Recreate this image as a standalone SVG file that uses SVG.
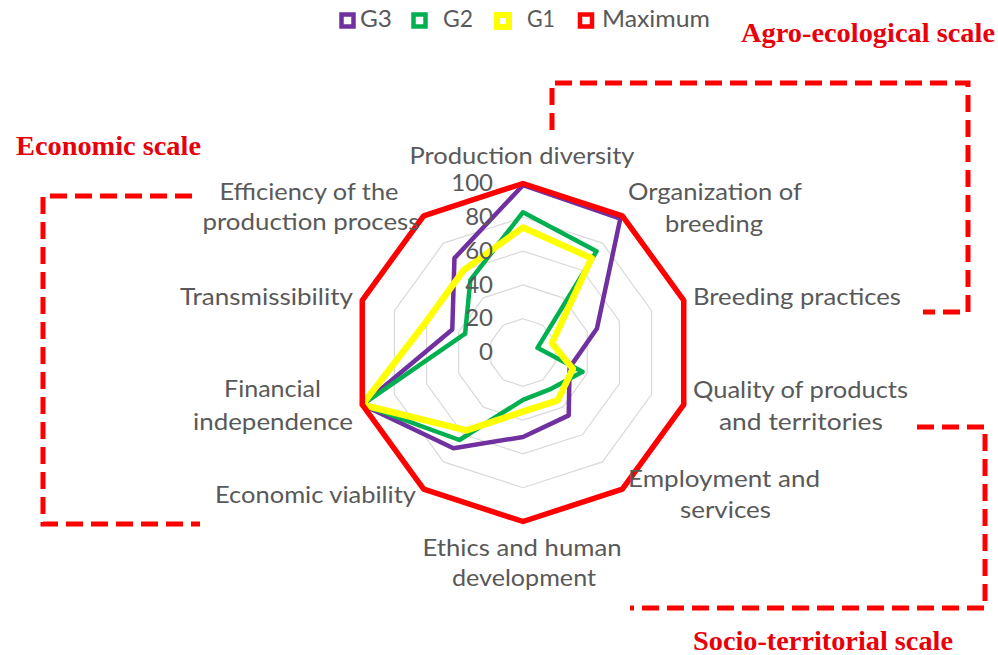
<svg xmlns="http://www.w3.org/2000/svg" width="998" height="655" viewBox="0 0 998 655">
<style>
.lbl{font-family:Lato,"Open Sans","Liberation Sans",sans-serif;font-size:24px;fill:#595959;text-anchor:middle}
.tick{font-family:Lato,"Open Sans","Liberation Sans",sans-serif;font-size:24px;fill:#595959;text-anchor:end}
.leg{font-family:Lato,"Open Sans","Liberation Sans",sans-serif;font-size:24px;fill:#595959}
.scale{font-family:"Liberation Serif","Times New Roman",serif;font-size:28px;font-weight:bold;fill:#E8000B}
.grid{fill:none;stroke:#d9d9d9;stroke-width:1.2}
.ser{fill:none;stroke-linejoin:round}
.bracket{fill:none;stroke:#FF0000;stroke-width:5;stroke-dasharray:17 8}
</style>
<rect width="998" height="655" fill="#ffffff"/>
<g id="legend">
<rect x="341.5" y="14.5" width="12" height="12" fill="#fff" stroke="#7030A0" stroke-width="4.5"/>
<text class="leg" x="360" y="27" textLength="32" lengthAdjust="spacingAndGlyphs">G3</text>
<rect x="413.5" y="14.5" width="12" height="12" fill="#fff" stroke="#00B050" stroke-width="4.5"/>
<text class="leg" x="443" y="27" textLength="30" lengthAdjust="spacingAndGlyphs">G2</text>
<rect x="497" y="15" width="12" height="12" fill="#fff" stroke="#FFFF00" stroke-width="6"/>
<text class="leg" x="527" y="27" textLength="28" lengthAdjust="spacingAndGlyphs">G1</text>
<rect x="580" y="14.5" width="12" height="12" fill="#fff" stroke="#FF0000" stroke-width="4.5"/>
<text class="leg" x="602" y="27" textLength="108" lengthAdjust="spacingAndGlyphs">Maximum</text>
</g>
<g id="grid" transform="translate(523,352.5)">
<polygon class="grid" points="0,-33.8 19.87,-27.34 32.15,-10.44 32.15,10.44 19.87,27.34 0,33.8 -19.87,27.34 -32.15,10.44 -32.15,-10.44 -19.87,-27.34"/>
<polygon class="grid" points="0,-67.6 39.74,-54.69 64.29,-20.89 64.29,20.89 39.74,54.69 0,67.6 -39.74,54.69 -64.29,20.89 -64.29,-20.89 -39.74,-54.69"/>
<polygon class="grid" points="0,-101.4 59.6,-82.03 96.44,-31.33 96.44,31.33 59.6,82.03 0,101.4 -59.6,82.03 -96.44,31.33 -96.44,-31.33 -59.6,-82.03"/>
<polygon class="grid" points="0,-135.2 79.47,-109.38 128.59,-41.78 128.59,41.78 79.47,109.38 0,135.2 -79.47,109.38 -128.59,41.78 -128.59,-41.78 -79.47,-109.38"/>
<polygon class="grid" points="0,-169 99.34,-136.72 160.74,-52.22 160.74,52.22 99.34,136.72 0,169 -99.34,136.72 -160.74,52.22 -160.74,-52.22 -99.34,-136.72"/>
</g>
<g id="series" transform="translate(523,352.5)">
<polygon id="G3" class="ser" stroke="#7030A0" stroke-width="4.5" points="0,-167.31 97.35,-133.99 73.94,-24.02 46.61,15.14 45.7,62.89 0,84.5 -69.54,95.7 -160.74,52.22 -70.72,-22.98 -68.54,-94.34"/>
<polygon id="G2" class="ser" stroke="#00B050" stroke-width="4.5" points="0,-140.27 73.51,-101.17 14.47,-4.7 59.47,19.32 26.82,36.91 0,47.32 -63.58,87.5 -160.74,52.22 -57.87,-18.8 -52.65,-72.46"/>
<polygon id="G1" class="ser" stroke="#FFFF00" stroke-width="6.5" points="0,-125.06 68.54,-94.34 28.93,-9.4 49.83,16.19 34.77,47.85 0,59.15 -56.62,77.93 -160.74,52.22 -96.44,-31.33 -59.6,-82.03"/>
<polygon id="Maximum" class="ser" stroke="#FF0000" stroke-width="5.5" points="0,-169 99.34,-136.72 160.74,-52.22 160.74,52.22 99.34,136.72 0,169 -99.34,136.72 -160.74,52.22 -160.74,-52.22 -99.34,-136.72"/>
</g>
<g id="ticks">
<text class="tick" x="493" y="191">100</text>
<text class="tick" x="493" y="225">80</text>
<text class="tick" x="493" y="259">60</text>
<text class="tick" x="493" y="293">40</text>
<text class="tick" x="493" y="326">20</text>
<text class="tick" x="493" y="360">0</text>
</g>
<g id="axis-labels">
<text class="lbl" x="522" y="164" textLength="225" lengthAdjust="spacingAndGlyphs">Production diversity</text>
<text class="lbl" x="715" y="200" textLength="174" lengthAdjust="spacingAndGlyphs">Organization of</text>
<text class="lbl" x="714" y="232" textLength="98" lengthAdjust="spacingAndGlyphs">breeding</text>
<text class="lbl" x="797" y="305" textLength="208" lengthAdjust="spacingAndGlyphs">Breeding practices</text>
<text class="lbl" x="800.5" y="398" textLength="215" lengthAdjust="spacingAndGlyphs">Quality of products</text>
<text class="lbl" x="801" y="430" textLength="164" lengthAdjust="spacingAndGlyphs">and territories</text>
<text class="lbl" x="724" y="487" textLength="192" lengthAdjust="spacingAndGlyphs">Employment and</text>
<text class="lbl" x="725.5" y="518" textLength="91" lengthAdjust="spacingAndGlyphs">services</text>
<text class="lbl" x="522" y="556" textLength="199" lengthAdjust="spacingAndGlyphs">Ethics and human</text>
<text class="lbl" x="524" y="586" textLength="144" lengthAdjust="spacingAndGlyphs">development</text>
<text class="lbl" x="315.5" y="503" textLength="201" lengthAdjust="spacingAndGlyphs">Economic viability</text>
<text class="lbl" x="272.5" y="397" textLength="97" lengthAdjust="spacingAndGlyphs">Financial</text>
<text class="lbl" x="273" y="430" textLength="160" lengthAdjust="spacingAndGlyphs">independence</text>
<text class="lbl" x="266.5" y="305" textLength="173" lengthAdjust="spacingAndGlyphs">Transmissibility</text>
<text class="lbl" x="309" y="200" textLength="179" lengthAdjust="spacingAndGlyphs">Efficiency of the</text>
<text class="lbl" x="311" y="230" textLength="217" lengthAdjust="spacingAndGlyphs">production process</text>
</g>
<g id="scales">
<g id="economic-scale">
<text class="scale" x="16" y="155" textLength="185" lengthAdjust="spacingAndGlyphs">Economic scale</text>
<polyline class="bracket" points="192,196 43,196 43,524 200,524"/>
</g>
<g id="agro-ecological-scale">
<text class="scale" x="741" y="42" textLength="254" lengthAdjust="spacingAndGlyphs">Agro-ecological scale</text>
<polyline class="bracket" points="552,130 552,83 968,83 968,312 923,312"/>
</g>
<g id="socio-territorial-scale">
<text class="scale" x="693" y="650" textLength="260" lengthAdjust="spacingAndGlyphs">Socio-territorial  scale</text>
<polyline class="bracket" points="917,427 985,427 985,608 630,608"/>
</g>
</g>
</svg>
